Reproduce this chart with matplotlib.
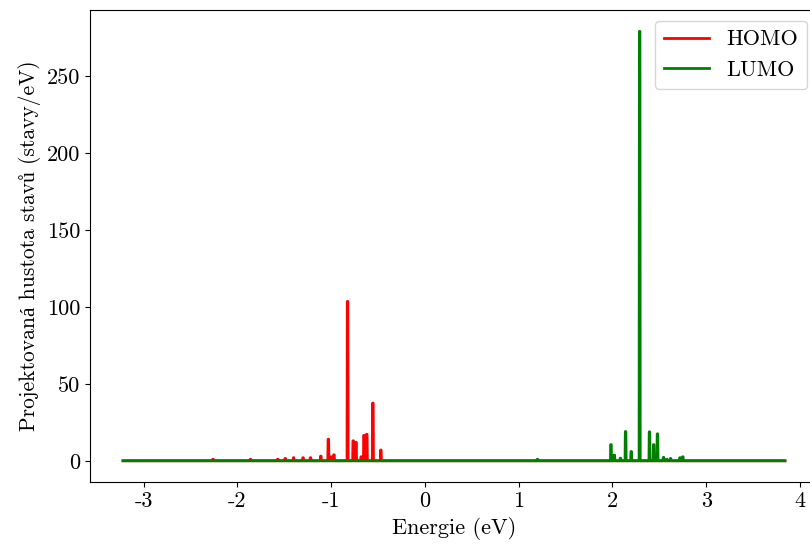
import numpy as np
from matplotlib import pyplot as plt

plt.rcParams['font.family'] = ['cmr10', 'Liberation Serif']
plt.rcParams['axes.unicode_minus'] = False
plt.rcParams['font.size'] = 16

# energy range of the computed PDOS
e_start = -3.22
e_stop = 3.84

# HOMO peaks (eV, states/eV)
homo_e = [-2.26, -1.86, -1.57, -1.49, -1.40, -1.30, -1.22, -1.11, -1.03, -1.00, -0.97,
          -0.825, -0.765, -0.735, -0.68, -0.65, -0.62, -0.555, -0.47]
homo_h = [1.0, 1.0, 1.0, 1.5, 2.0, 2.0, 2.0, 3.0, 14.0, 2.6, 3.9,
          103.5, 13.0, 12.0, 2.6, 16.5, 17.2, 37.5, 7.0]

# LUMO peaks (eV, states/eV)
lumo_e = [1.20, 1.984, 2.02, 2.085, 2.14, 2.20, 2.29, 2.395, 2.44, 2.48, 2.545, 2.58,
          2.62, 2.72, 2.75]
lumo_h = [1.0, 10.5, 3.7, 1.7, 19.0, 6.0, 279.0, 18.8, 10.5, 17.5, 2.2, 1.0,
          1.5, 2.0, 2.6]

w = 0.006  # half width of a spike


def spikes(energies, heights):
    x = [e_start]
    y = [0.0]
    for e, h in zip(energies, heights):
        x += [e - w, e - w / 2, e + w / 2, e + w]
        y += [0.0, h, h, 0.0]
    x.append(e_stop)
    y.append(0.0)
    return np.array(x), np.array(y)


fig = plt.figure(figsize=(8.1, 5.48), dpi=100)
ax = fig.add_axes([0.111, 0.120, 0.899, 0.862])

xh, yh = spikes(homo_e, homo_h)
xl, yl = spikes(lumo_e, lumo_h)
ax.plot(xh, yh, color='red', lw=2, label='HOMO')
ax.plot(xl, yl, color='green', lw=2, label='LUMO')

ax.set_xlabel('Energie (eV)')
ax.set_ylabel('Projektovaná hustota stavů (stavy/eV)', fontsize=15.5)
ax.legend(loc='upper right')

fig.savefig('out.png', dpi=100)
